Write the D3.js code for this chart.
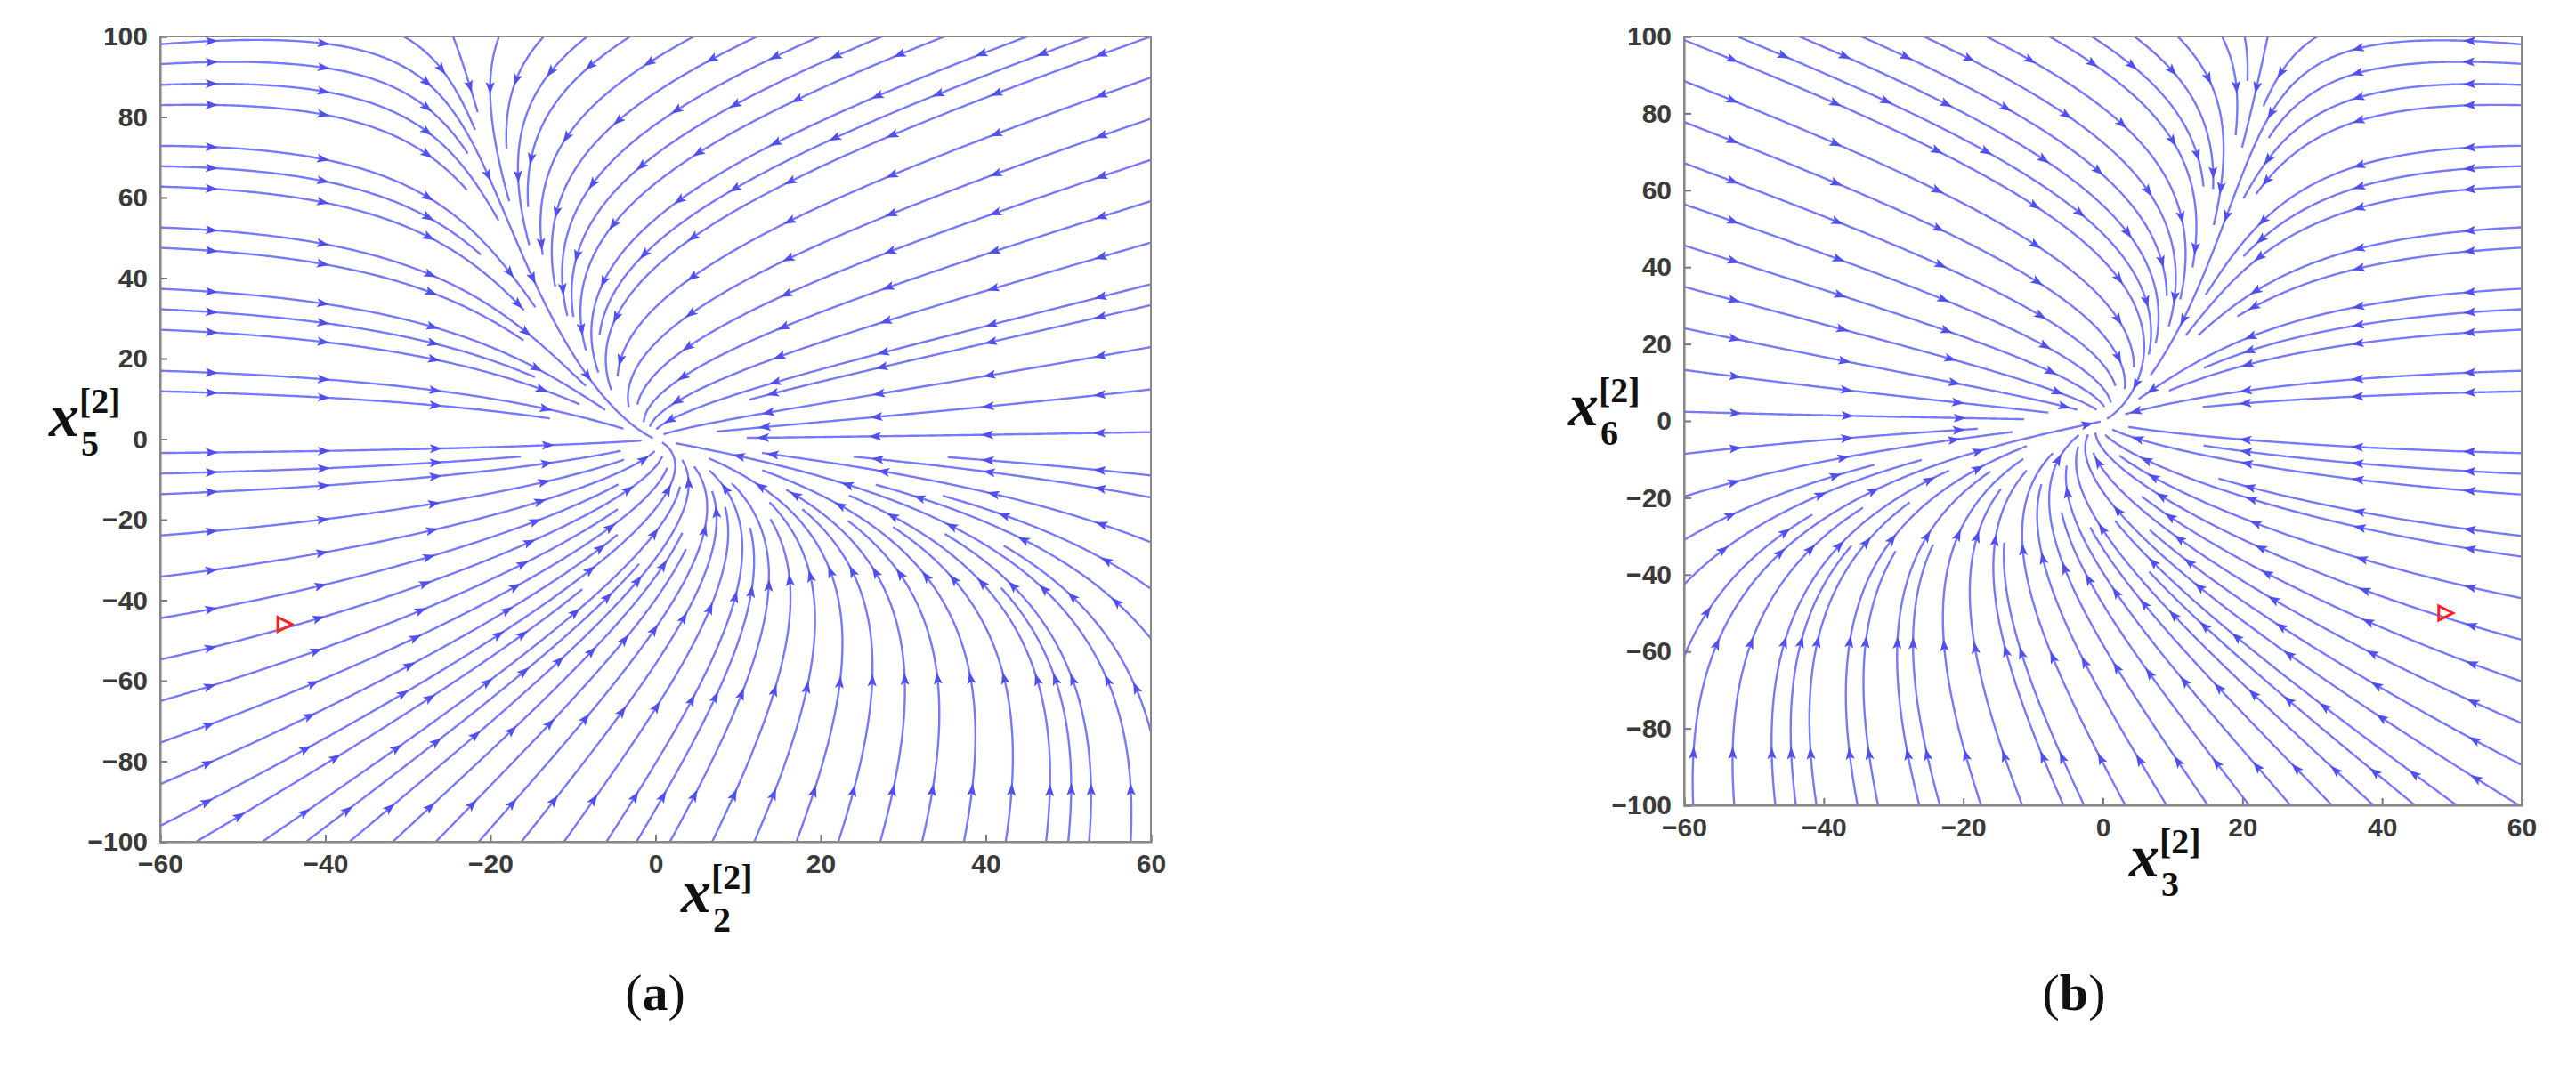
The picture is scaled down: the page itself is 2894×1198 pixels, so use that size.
<!DOCTYPE html>
<html><head><meta charset="utf-8">
<script src="https://cdn.jsdelivr.net/npm/d3@7"></script>
<style>body{margin:0;background:#fff}</style></head>
<body><svg id="c" width="2894" height="1198"></svg>
<script>
// Axis ticks
const xTicks = [-60,-40,-20,0,20,40,60];
const yTicks = [-100,-80,-60,-40,-20,0,20,40,60,80,100];
// Vector field coefficients (normalized u=x/60, v=y/100):
// du = a1*u + a2*v + a3*u*v ; dv = b1*v + b2*u*v + b3*v*v
const fieldA = [-1.0, -0.55, -0.5, -0.8, -0.5, 0.4];
const fieldB = [-1.0, 0.55, -0.5, -0.8, 0.5, 0.4];
// Initial condition markers
const markerA = [-45, -46];
const markerB = [49, -50];

const svg = d3.select("#c");
const panels = [
  {field:fieldA, marker:markerA, x0:180, x1:1293, y0:41, y1:946, lab:"(a)", labX:736, sub:"5", xsub:"2",
   ylx:55, yly:490, xlx:765, xly:1025},
  {field:fieldB, marker:markerB, x0:1892, x1:2833, y0:41, y1:905, lab:"(b)", labX:2330, sub:"6", xsub:"3",
   ylx:1762, yly:478, xlx:2392, xly:985}
];

panels.forEach((p,pi)=>{
  const x = d3.scaleLinear().domain([-60,60]).range([p.x0,p.x1]);
  const y = d3.scaleLinear().domain([-100,100]).range([p.y1,p.y0]);
  const g = svg.append("g");
  const clipId = "clip"+pi;
  svg.append("clipPath").attr("id",clipId).append("rect").attr("x",p.x0).attr("y",p.y0).attr("width",p.x1-p.x0).attr("height",p.y1-p.y0);
  const lines = g.append("g").attr("clip-path",`url(#${clipId})`);
  const [a1,a2,a3,b1,b2,b3] = p.field;
  const vel = (X,Y)=>{const u=X/60,v=Y/100;return [60*(a1*u+a2*v+a3*u*v),100*(b1*v+b2*u*v+b3*v*v)];};
  const W=p.x1-p.x0,H=p.y1-p.y0, cs=7, nx=Math.ceil(W/cs), ny=Math.ceil(H/cs);
  const occ=new Int32Array(nx*ny).fill(-1);
  const dsep=23, dtest=8;
  let lid=0;
  function cellOf(px,py){return [Math.floor((px-p.x0)/cs),Math.floor((py-p.y0)/cs)];}
  function free(px,py,dist,id){
    const [ci,cj]=cellOf(px,py);const r=Math.ceil(dist/cs);
    for(let i=ci-r;i<=ci+r;i++)for(let j=cj-r;j<=cj+r;j++){
      if(i<0||j<0||i>=nx||j>=ny)continue;const o=occ[j*nx+i];
      if(o>=0&&o!==id){const cx=p.x0+(i+.5)*cs,cy=p.y0+(j+.5)*cs;if(Math.hypot(cx-px,cy-py)<dist)return false;}
    }return true;
  }
  const kx=x(1)-x(0), ky=y(1)-y(0);
  function trace(px,py,dir,id){
    const pts=[];let X=x.invert(px),Y=y.invert(py);const step=3;
    for(let k=0;k<3000;k++){
      const sx=x(X),sy=y(Y);
      if(sx<p.x0-2||sx>p.x1+2||sy<p.y0-2||sy>p.y1+2)break;
      if(k>0&&!free(sx,sy,dtest,id))break;
      pts.push([X,Y]);
      if(Math.hypot(sx-x(0),sy-y(0))<4)break;
      const [vx,vy]=vel(X,Y);
      const pvx=vx*kx, pvy=vy*ky;
      const m=Math.hypot(pvx,pvy);if(m<1e-9)break;
      X+=dir*step*pvx/m/kx;Y+=dir*step*pvy/m/ky;
    }
    return pts;
  }
  const all=[];
  const seeds=[];
  for(let gx=p.x0+10;gx<p.x1;gx+=dsep)for(let gy=p.y0+8;gy<p.y1;gy+=dsep)seeds.push([gx,gy]);
  seeds.sort((s,t)=>Math.hypot(t[0]-x(0),t[1]-y(0))-Math.hypot(s[0]-x(0),s[1]-y(0)));
  seeds.forEach(([sx,sy])=>{
    if(!free(sx,sy,dsep,-2))return;
    const id=lid++;
    const f=trace(sx,sy,1,id), bk=trace(sx,sy,-1,id);
    const pts=bk.reverse().concat(f.slice(1));
    if(pts.length<6)return;
    pts.forEach(([X,Y])=>{const [i,j]=cellOf(x(X),y(Y));if(i>=0&&j>=0&&i<nx&&j<ny)occ[j*nx+i]=id;});
    all.push(pts);
  });
  const line=d3.line().x(q=>x(q[0])).y(q=>y(q[1])).curve(d3.curveBasis);
  lines.selectAll("path.s").data(all).join("path").attr("class","s").attr("d",line)
    .attr("fill","none").attr("stroke","#7878fb").attr("stroke-width",2.4);
  all.forEach(pts=>{
    for(let k=20;k<pts.length-3;k+=42){
      const [X,Y]=pts[k];const [X2,Y2]=pts[k+1];
      const ang=Math.atan2(y(Y2)-y(Y),x(X2)-x(X))*180/Math.PI;
      lines.append("path").attr("d","M7,0 L-7,-5 L-4,0 L-7,5 Z")
        .attr("transform",`translate(${x(X)},${y(Y)}) rotate(${ang})`).attr("fill","#5050ee");
    }
  });
  const fs="Arial, 'Liberation Sans', sans-serif";
  const ax=g.append("g").attr("transform",`translate(0,${p.y1})`).call(d3.axisBottom(x).tickValues(xTicks).tickSize(-8).tickPadding(14).tickFormat(d3.format("d")));
  const ay=g.append("g").attr("transform",`translate(${p.x0},0)`).call(d3.axisLeft(y).tickValues(yTicks).tickSize(-8).tickPadding(14).tickFormat(d3.format("d")));
  [ax,ay].forEach(s=>{s.selectAll("text").attr("font-family",fs).attr("font-size",30).attr("font-weight","bold").attr("fill","#3a3a3a");
    s.selectAll("line,path").attr("stroke","#777").attr("stroke-width",2);});
  g.append("rect").attr("x",p.x0).attr("y",p.y0).attr("width",W).attr("height",H).attr("fill","none").attr("stroke","#888").attr("stroke-width",2);
  g.append("path").attr("d","M9,0 L-7,-8 L-7,8 Z").attr("transform",`translate(${x(p.marker[0])},${y(p.marker[1])})`)
    .attr("fill","none").attr("stroke","#ff2020").attr("stroke-width",3);
  function varLabel(tx,ty,sub){
    const t=g.append("text").attr("x",tx).attr("y",ty).attr("font-family","'Liberation Serif','DejaVu Serif',serif").attr("font-weight","bold").attr("fill","#111");
    t.append("tspan").attr("font-style","italic").attr("font-size",68).text("x");
    t.append("tspan").attr("font-size",40).attr("dx",2).attr("dy",22).text(sub);
    t.append("tspan").attr("font-size",40).attr("dx",-22).attr("dy",-48).text("[2]");
  }
  varLabel(p.ylx,p.yly,p.sub);
  varLabel(p.xlx,p.xly,p.xsub);
  g.append("text").attr("x",p.labX).attr("y",1135).attr("text-anchor","middle").attr("font-family","'Liberation Serif',serif").attr("font-size",58).attr("fill","#111")
    .html("(<tspan font-weight='bold'>"+p.lab[1]+"</tspan>)");
});
</script></body></html>
